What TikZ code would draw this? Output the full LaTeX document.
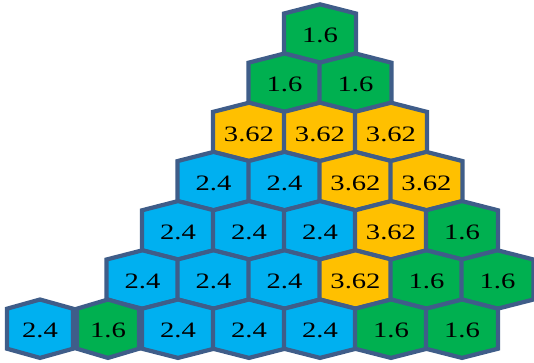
\documentclass[tikz,border=0pt]{standalone}
\usepackage{fontspec}
\usepackage{graphicx}
\setmainfont{Liberation Serif}
\definecolor{hgreen}{HTML}{00B050}
\definecolor{hyellow}{HTML}{FFC000}
\definecolor{hblue}{HTML}{00B0F0}
\definecolor{hborder}{HTML}{3F5D89}
\def\hb{29.2}
\def\hc{20}
% #1 name, #2 x, #3 y, #4 fill colour, #5 label, #6 half width
\newcommand\hexcell[6]{%
  \draw[hexline, fill=#4] (#2,#3-\hb) -- (#2+#6,#3-\hc) -- (#2+#6,#3+\hc) -- (#2,#3+\hb)
    -- (#2-#6,#3+\hc) -- (#2-#6,#3-\hc) -- cycle;
  \node[hexlabel] (#1) at (#2,#3+2) {\scalebox{1.3}[1]{#5}};
}
\begin{document}
\begin{tikzpicture}[x=1pt,y=-1pt,
  hexline/.style={draw=hborder, line width=4.2pt, line join=miter},
  hexlabel/.style={inner sep=0pt, font=\fontsize{22}{22}\selectfont, text=black}]
\useasboundingbox (0,0) rectangle (534,362);
% row 1
\hexcell{h11}{320}{33.5}{hgreen}{1.6}{36}
% row 2
\hexcell{h21}{284.5}{82.7}{hgreen}{1.6}{36}
\hexcell{h22}{355.5}{82.7}{hgreen}{1.6}{36}
% row 3
\hexcell{h31}{249}{131.9}{hyellow}{3.62}{36}
\hexcell{h32}{320}{131.9}{hyellow}{3.62}{36}
\hexcell{h33}{391}{131.9}{hyellow}{3.62}{36}
% row 4
\hexcell{h41}{213.5}{181.1}{hblue}{2.4}{36}
\hexcell{h42}{284.5}{181.1}{hblue}{2.4}{36}
\hexcell{h43}{355.5}{181.1}{hyellow}{3.62}{36}
\hexcell{h44}{426.5}{181.1}{hyellow}{3.62}{36}
% row 5
\hexcell{h51}{178}{230.3}{hblue}{2.4}{36}
\hexcell{h52}{249}{230.3}{hblue}{2.4}{36}
\hexcell{h53}{320}{230.3}{hblue}{2.4}{36}
\hexcell{h54}{391}{230.3}{hyellow}{3.62}{36}
\hexcell{h55}{462}{230.3}{hgreen}{1.6}{36}
% row 6
\hexcell{h61}{142.5}{279.5}{hblue}{2.4}{36}
\hexcell{h62}{213.5}{279.5}{hblue}{2.4}{36}
\hexcell{h63}{284.5}{279.5}{hblue}{2.4}{36}
\hexcell{h64}{355.5}{279.5}{hyellow}{3.62}{36}
\hexcell{h65}{426.5}{279.5}{hgreen}{1.6}{36}
\hexcell{h66}{497.5}{279.5}{hgreen}{1.6}{36}
% row 7
\hexcell{h71}{40}{328.7}{hblue}{2.4}{33}
\hexcell{h72}{108}{328.7}{hgreen}{1.6}{31}
\hexcell{h73}{178}{328.7}{hblue}{2.4}{36}
\hexcell{h74}{249}{328.7}{hblue}{2.4}{36}
\hexcell{h75}{320}{328.7}{hblue}{2.4}{36}
\hexcell{h76}{391}{328.7}{hgreen}{1.6}{36}
\hexcell{h77}{462}{328.7}{hgreen}{1.6}{36}
\end{tikzpicture}
\end{document}
